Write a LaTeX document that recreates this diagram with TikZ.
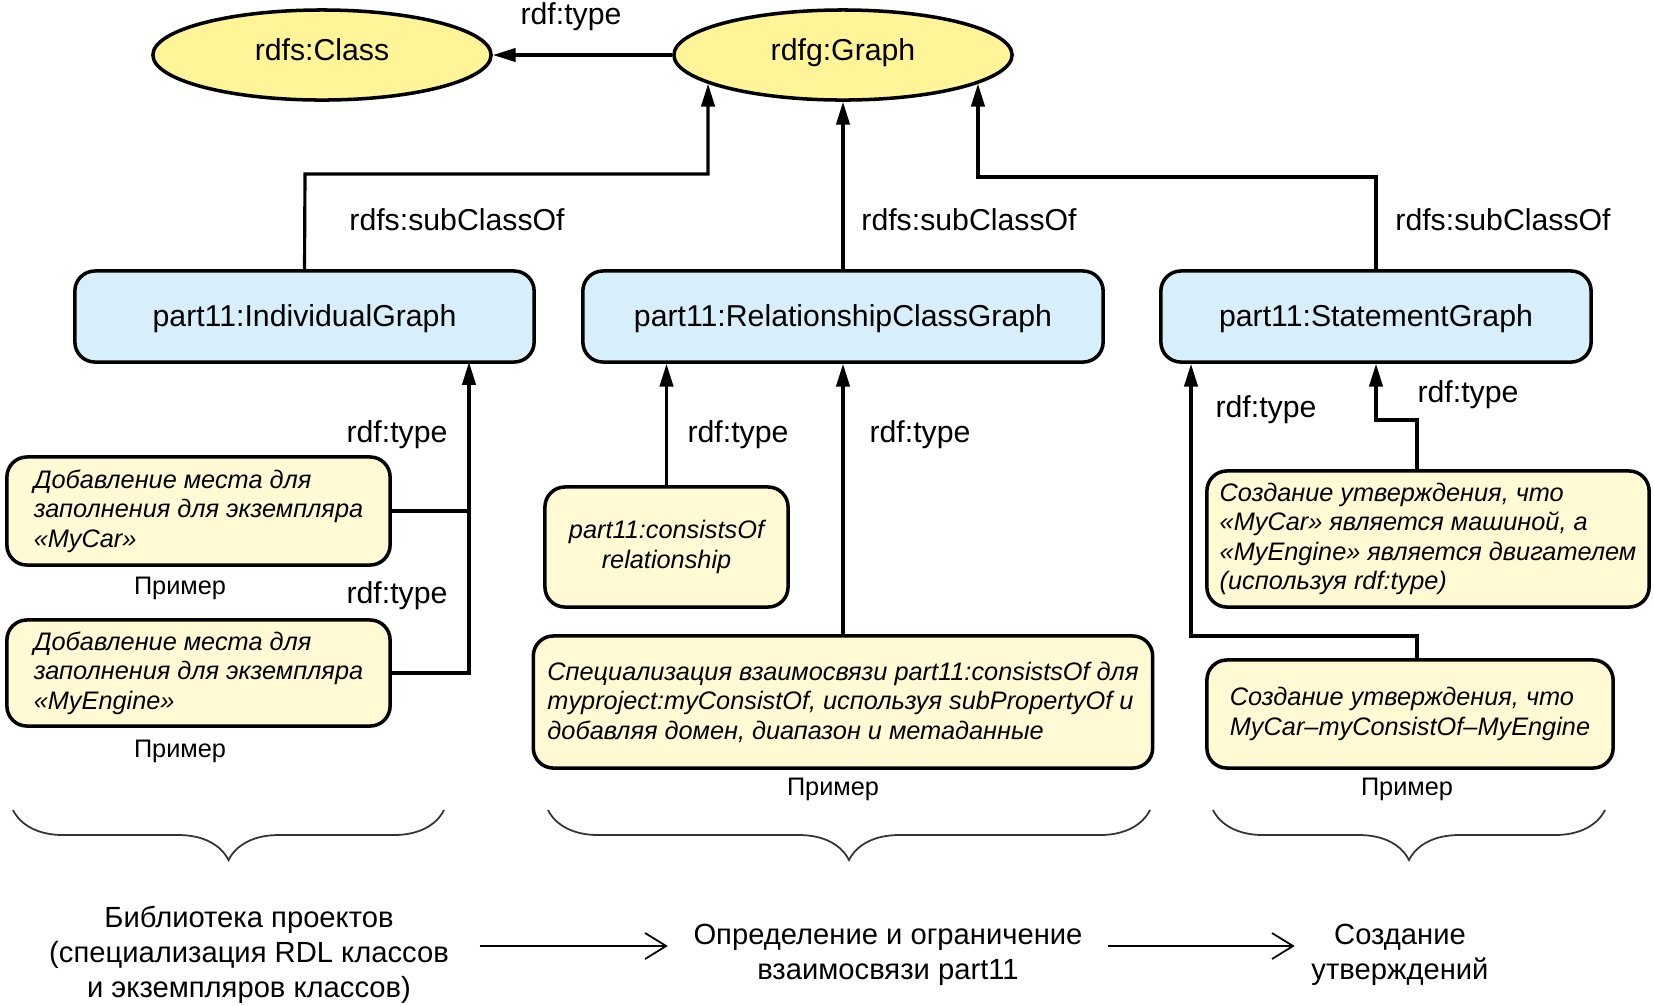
\documentclass[tikz,border=0pt]{standalone}
\usepackage{fontspec}
\setmainfont{Liberation Sans}
\usetikzlibrary{arrows.meta,shapes.geometric,decorations.pathreplacing}

\definecolor{ovalfill}{RGB}{255,244,152}
\definecolor{graphfill}{RGB}{214,239,251}
\definecolor{notefill}{RGB}{255,250,212}

\begin{document}
\begin{tikzpicture}[x=0.01cm,y=-0.01cm,
    oval/.style={ellipse,draw,line width=1pt,fill=ovalfill,minimum width=3.38cm,minimum height=0.9cm,inner sep=0pt,text height=0.22cm,text depth=0.12cm,font=\fontsize{8.6}{10}\selectfont},
    graphbox/.style={draw,line width=1pt,rounded corners=0.2cm,fill=graphfill,minimum height=0.91cm,inner sep=0pt,text height=0.22cm,text depth=0.02cm,font=\fontsize{8.6}{10}\selectfont},
    note/.style={draw,line width=1pt,rounded corners=0.2cm,fill=notefill,inner sep=0pt,align=left,font=\fontsize{7.2}{8.4}\selectfont\itshape},
    lbl/.style={inner sep=0pt,font=\fontsize{8.6}{10}\selectfont},
    example/.style={inner sep=0pt,font=\fontsize{7.2}{9}\selectfont},
    stage/.style={inner sep=0.3cm,align=center,font=\fontsize{8.3}{9.9}\selectfont},
    arr/.style={line width=0.9pt,-{Triangle[length=6.5pt,width=3.8pt]}},
    link/.style={line width=0.9pt},
    flow/.style={line width=0.5pt,-{Straight Barb[length=6pt,width=7.4pt]}},
    curly/.style={decorate,decoration={brace,mirror,amplitude=0.5cm},line width=0.5pt,draw=black!80}]
  \useasboundingbox (0,0) rectangle (1654,1005);

  \node[oval] (cls) at (322,55) {rdfs:Class};
  \node[oval] (graph) at (843,55) {rdfg:Graph};
  \draw[arr] (graph) -- (cls);
  \node[lbl] (typetop) at (571,17) {rdf:type};

  \node[graphbox,minimum width=4.59cm] (ind) at (304.5,316.5) {part11:IndividualGraph};
  \node[graphbox,minimum width=5.2cm] (rel) at (843,316.5) {part11:RelationshipClassGraph};
  \node[graphbox,minimum width=4.3cm] (stm) at (1376,316.5) {part11:StatementGraph};

  \coordinate (k1) at (305,174);
  \coordinate (k2) at (1376,177);
  \draw[arr] (ind.north) -- (k1) -| (graph.192);
  \draw[arr] (rel.north) -- (graph.south);
  \draw[arr] (stm.north) -- (k2) -| (graph.348);
  \node[lbl] (sub1) at (457,220) {rdfs:subClassOf};
  \node[lbl] (sub2) at (969,220) {rdfs:subClassOf};
  \node[lbl] (sub3) at (1503,220) {rdfs:subClassOf};

  \node[note,minimum width=3.83cm,minimum height=1.08cm] (car) at (198.5,511)
    {Добавление места для\\заполнения для экземпляра\\«MyCar»};
  \node[note,minimum width=3.83cm,minimum height=1.06cm] (eng) at (198.5,673)
    {Добавление места для\\заполнения для экземпляра\\«MyEngine»};
  \node[example] (ex1) at (180,588) {Пример};
  \node[example] (ex2) at (180,751) {Пример};
  \coordinate (indin) at (469,362);
  \draw[arr] (eng.east) -| (indin);
  \draw[link] (car.east) -- (car.east -| indin);
  \node[lbl] (type1) at (397,435) {rdf:type};
  \node[lbl] (type2) at (397,596) {rdf:type};

  \node[note,align=center,minimum width=2.43cm,minimum height=1.2cm] (cons) at (666.5,547)
    {part11:consistsOf\\relationship};
  \node[note,minimum width=6.19cm,minimum height=1.32cm] (spec) at (843,702)
    {Специализация взаимосвязи part11:consistsOf для\\myproject:myConsistOf, используя subPropertyOf и\\добавляя домен, диапазон и метаданные};
  \node[example] (ex3) at (833,789) {Пример};
  \draw[arr] (cons.north) -- (cons.north |- rel.south);
  \draw[arr] (spec.north) -- (rel.south);
  \node[lbl] (type3) at (738,435) {rdf:type};
  \node[lbl] (type4) at (920,435) {rdf:type};

  \node[note,minimum width=4.42cm,minimum height=1.36cm] (mycar) at (1428,539)
    {Создание утверждения, что\\«MyCar» является машиной, а\\«MyEngine» является двигателем\\(используя rdf:type)};
  \node[note,minimum width=4.06cm,minimum height=1.08cm] (stmt) at (1410,714)
    {Создание утверждения, что\\MyCar–myConsistOf–MyEngine};
  \node[example] (ex4) at (1407,789) {Пример};
  \coordinate (k3) at (1417,420);
  \coordinate (k4) at (1417,636);
  \coordinate (k5) at (1191,636);
  \draw[arr] (mycar.north -| k3) -- (k3) -| (stm.south);
  \draw[arr] (stmt.north -| k4) -- (k4) -- (k5) -- (k5 |- stm.south);
  \node[lbl] (type5) at (1266,410) {rdf:type};
  \node[lbl] (type6) at (1468,395) {rdf:type};

  \draw[curly] (13,810) -- (444,810);
  \draw[curly] (548,810) -- (1150,810);
  \draw[curly] (1213,810) -- (1605,810);

  \node[stage] (lib) at (249,955) {Библиотека проектов\\(специализация RDL классов\\и экземпляров классов)};
  \node[stage] (def) at (888,955) {Определение и ограничение\\взаимосвязи part11};
  \node[stage] (make) at (1400,955) {Создание\\утверждений};
  \draw[flow] ([yshift=0.09cm]lib.east) -- ([xshift=0.05cm,yshift=0.09cm]def.west);
  \draw[flow] ([xshift=-0.05cm,yshift=0.09cm]def.east) -- ([xshift=0.14cm,yshift=0.09cm]make.west);
\end{tikzpicture}
\end{document}
